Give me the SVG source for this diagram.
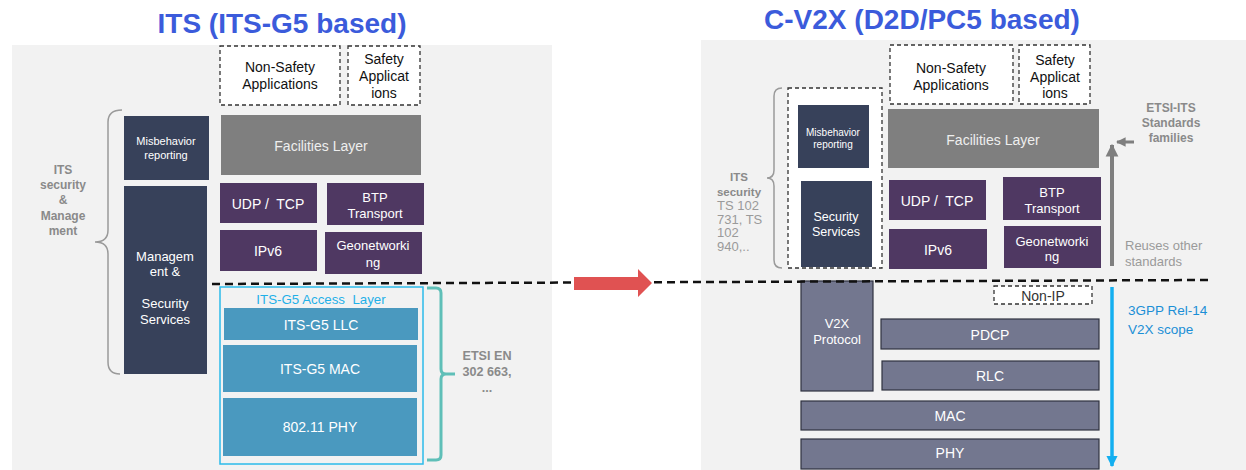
<svg xmlns="http://www.w3.org/2000/svg" width="1246" height="470" viewBox="0 0 1246 470">
  <style>
    text { font-family: "Liberation Sans", Arial, sans-serif; text-anchor: middle; dominant-baseline: central; }
    .title { font-size: 28px; font-weight: bold; fill: #3b5bdb; dominant-baseline: alphabetic; }
    .panel { fill: #f2f2f2; }
    .dash { fill: #ffffff; stroke: #333333; stroke-width: 1.3; stroke-dasharray: 4 3; }
    .app { font-size: 14px; fill: #111111; }
    .navy { fill: #37415a; }
    .purple { fill: #4f3862; }
    .fac { fill: #7f7f7f; }
    .g5 { fill: #4a99bf; }
    .v2x { fill: #73778f; stroke: #2f3240; stroke-width: 1.2; }
    .wt { fill: #ffffff; }
    .lbl { font-weight: bold; fill: #8a8a8a; }
    .note { fill: #9a9a9a; font-size: 13px; text-anchor: start; }
    .blue { fill: #1b8fd6; font-size: 13.5px; text-anchor: start; }
    .brace { fill: none; stroke: #9a9a9a; stroke-width: 1.5; }
  </style>
  <defs>
    <marker id="grayHead" viewBox="0 0 10 10" refX="9" refY="5" markerWidth="3.2" markerHeight="3.4" orient="auto" markerUnits="strokeWidth">
      <path d="M0,0 L10,5 L0,10 z" fill="#7f7f7f"/>
    </marker>
    <marker id="blueHead" viewBox="0 0 10 10" refX="9" refY="5" markerWidth="3.2" markerHeight="3.4" orient="auto" markerUnits="strokeWidth">
      <path d="M0,0 L10,5 L0,10 z" fill="#14aff0"/>
    </marker>
  </defs>

  <!-- panels -->
  <rect class="panel" x="12" y="45" width="540" height="425"/>
  <rect class="panel" x="701" y="40" width="545" height="430"/>

  <!-- headings -->
  <text class="title" x="282" y="33">ITS (ITS-G5 based)</text>
  <text class="title" x="922" y="29">C-V2X (D2D/PC5 based)</text>

  <!-- ===== ITS-G5 stack ===== -->
  <g id="its-nonsafety">
    <rect class="dash" x="220" y="46" width="120" height="59"/>
    <text class="app" x="280" y="67">Non-Safety</text>
    <text class="app" x="280" y="84">Applications</text>
  </g>
  <g id="its-safety">
    <rect class="dash" x="348" y="46" width="72" height="59"/>
    <text class="app" x="384" y="59">Safety</text>
    <text class="app" x="384" y="76">Applicat</text>
    <text class="app" x="384" y="93">ions</text>
  </g>
  <g id="its-misbehavior">
    <rect class="navy" x="124" y="116" width="85" height="64"/>
    <text class="wt" x="166" y="141" font-size="11">Misbehavior</text>
    <text class="wt" x="166" y="155" font-size="11">reporting</text>
  </g>
  <g id="its-facilities">
    <rect class="fac" x="221" y="115" width="200" height="60"/>
    <text x="321" y="146" font-size="14" fill="#eeeeee">Facilities Layer</text>
  </g>
  <g id="its-mgmt">
    <rect class="navy" x="124" y="186" width="83" height="188"/>
    <text class="wt" x="165" y="256" font-size="13">Managem</text>
    <text class="wt" x="165" y="271" font-size="13">ent &amp;</text>
    <text class="wt" x="165" y="303" font-size="13">Security</text>
    <text class="wt" x="165" y="319" font-size="13">Services</text>
  </g>
  <g id="its-udp">
    <rect class="purple" x="220" y="183" width="97" height="40"/>
    <text class="wt" x="268" y="204" font-size="14" xml:space="preserve">UDP /  TCP</text>
  </g>
  <g id="its-btp">
    <rect class="purple" x="327" y="183" width="97" height="42"/>
    <text class="wt" x="375" y="197" font-size="13">BTP</text>
    <text class="wt" x="375" y="213" font-size="13">Transport</text>
  </g>
  <g id="its-ipv6">
    <rect class="purple" x="220" y="230" width="97" height="41"/>
    <text class="wt" x="268" y="251" font-size="14">IPv6</text>
  </g>
  <g id="its-geonet">
    <rect class="purple" x="325" y="232" width="97" height="42"/>
    <text class="wt" x="373" y="245" font-size="13">Geonetworki</text>
    <text class="wt" x="373" y="262" font-size="13">ng</text>
  </g>
  <g id="its-access">
    <rect x="220" y="287" width="203" height="177" fill="none" stroke="#2bbbea" stroke-width="1.5"/>
    <text x="321" y="299" font-size="13.3" fill="#1fb0e8" xml:space="preserve">ITS-G5 Access  Layer</text>
  </g>
  <g id="its-llc">
    <rect class="g5" x="224" y="308" width="194" height="32"/>
    <text class="wt" x="321" y="325" font-size="14">ITS-G5 LLC</text>
  </g>
  <g id="its-mac">
    <rect class="g5" x="223" y="345" width="194" height="47"/>
    <text class="wt" x="320" y="369" font-size="14">ITS-G5 MAC</text>
  </g>
  <g id="its-phy">
    <rect class="g5" x="223" y="398" width="194" height="58"/>
    <text class="wt" x="320" y="427" font-size="14">802.11 PHY</text>
  </g>
  <g id="its-sec-label">
    <text class="lbl" x="63" y="170" font-size="12">ITS</text>
    <text class="lbl" x="63" y="185" font-size="12">security</text>
    <text class="lbl" x="63" y="200" font-size="12">&amp;</text>
    <text class="lbl" x="63" y="216" font-size="12">Manage</text>
    <text class="lbl" x="63" y="231" font-size="12">ment</text>
  </g>
  <g id="its-etsi-label">
    <text class="lbl" x="487" y="356" font-size="12.6">ETSI EN</text>
    <text class="lbl" x="487" y="372" font-size="12.6">302 663,</text>
    <text class="lbl" x="487" y="388" font-size="12.6">...</text>
  </g>

  <!-- ===== C-V2X stack ===== -->
  <g id="cv2x-nonsafety">
    <rect class="dash" x="890" y="45" width="123" height="59"/>
    <text class="app" x="951" y="68">Non-Safety</text>
    <text class="app" x="951" y="85">Applications</text>
  </g>
  <g id="cv2x-safety">
    <rect class="dash" x="1019" y="45" width="71" height="59"/>
    <text class="app" x="1055" y="60">Safety</text>
    <text class="app" x="1055" y="77">Applicat</text>
    <text class="app" x="1055" y="93">ions</text>
  </g>
  <g id="cv2x-security-group">
    <rect class="dash" x="788" y="88" width="94" height="180"/>
  </g>
  <g id="cv2x-misbehavior">
    <rect class="navy" x="798" y="105" width="71" height="63"/>
    <text class="wt" x="833" y="132" font-size="10">Misbehavior</text>
    <text class="wt" x="833" y="144" font-size="10">reporting</text>
  </g>
  <g id="cv2x-secservices">
    <rect class="navy" x="801" y="181" width="71" height="86"/>
    <text class="wt" x="836" y="217" font-size="12.5">Security</text>
    <text class="wt" x="836" y="232" font-size="12.5">Services</text>
  </g>
  <g id="cv2x-facilities">
    <rect class="fac" x="888" y="109" width="211" height="59"/>
    <text x="993" y="140" font-size="14" fill="#eeeeee">Facilities Layer</text>
  </g>
  <g id="cv2x-udp">
    <rect class="purple" x="889" y="180" width="97" height="40"/>
    <text class="wt" x="937" y="201" font-size="14" xml:space="preserve">UDP /  TCP</text>
  </g>
  <g id="cv2x-btp">
    <rect class="purple" x="1003" y="177" width="98" height="43"/>
    <text class="wt" x="1052" y="192" font-size="13">BTP</text>
    <text class="wt" x="1052" y="208" font-size="13">Transport</text>
  </g>
  <g id="cv2x-ipv6">
    <rect class="purple" x="889" y="229" width="98" height="40"/>
    <text class="wt" x="938" y="250" font-size="14">IPv6</text>
  </g>
  <g id="cv2x-geonet">
    <rect class="purple" x="1004" y="226" width="97" height="42"/>
    <text class="wt" x="1052" y="241" font-size="13">Geonetworki</text>
    <text class="wt" x="1052" y="256" font-size="13">ng</text>
  </g>
  <g id="cv2x-v2xprotocol">
    <rect class="v2x" x="801" y="281" width="72" height="110"/>
    <text class="wt" x="837" y="323" font-size="13">V2X</text>
    <text class="wt" x="837" y="339" font-size="13">Protocol</text>
  </g>
  <g id="cv2x-nonip">
    <rect class="dash" x="994" y="286" width="98" height="18"/>
    <text x="1043" y="296" font-size="14" fill="#333333">Non-IP</text>
  </g>
  <g id="cv2x-pdcp">
    <rect class="v2x" x="881" y="319" width="218" height="30"/>
    <text class="wt" x="990" y="335" font-size="14">PDCP</text>
  </g>
  <g id="cv2x-rlc">
    <rect class="v2x" x="882" y="361" width="217" height="29"/>
    <text class="wt" x="990" y="376" font-size="14">RLC</text>
  </g>
  <g id="cv2x-mac">
    <rect class="v2x" x="801" y="401" width="298" height="29"/>
    <text class="wt" x="950" y="416" font-size="14">MAC</text>
  </g>
  <g id="cv2x-phy">
    <rect class="v2x" x="801" y="439" width="298" height="30"/>
    <text class="wt" x="950" y="453" font-size="14">PHY</text>
  </g>
  <g id="cv2x-sec-label">
    <text class="lbl" x="739" y="177" font-size="11.5">ITS</text>
    <text class="lbl" x="739" y="192" font-size="11.5">security</text>
    <text class="note" x="717" y="205">TS 102</text>
    <text class="note" x="717" y="219">731, TS</text>
    <text class="note" x="717" y="232">102</text>
    <text class="note" x="717" y="246">940,..</text>
  </g>
  <g id="cv2x-etsi-label">
    <text class="lbl" x="1171" y="108" font-size="12">ETSI-ITS</text>
    <text class="lbl" x="1171" y="123" font-size="12">Standards</text>
    <text class="lbl" x="1171" y="138" font-size="12">families</text>
  </g>
  <g id="cv2x-reuse-label">
    <text class="note" x="1125" y="245">Reuses other</text>
    <text class="note" x="1125" y="261">standards</text>
  </g>
  <g id="cv2x-scope-label">
    <text class="blue" x="1128" y="310">3GPP Rel-14</text>
    <text class="blue" x="1128" y="329">V2X scope</text>
  </g>

  <!-- connectors: braces, separator, arrows -->
  <g id="connectors">
    <path class="brace" d="M122,110 Q108,110 108,122 V230 Q108,242 95,242 Q108,242 108,254 V362 Q108,374 120,374"/>
    <path class="brace" d="M782,88 Q774,88 774,96 V170 Q774,178 767,178 Q774,178 774,186 V260 Q774,268 782,268"/>
    <path d="M427,288 H436 Q441,288 441,293 V369 Q441,374 446,374 H455 M446,374 Q441,374 441,379 V455 Q441,460 436,460 H427" fill="none" stroke="#5fbfb8" stroke-width="3"/>
    <line x1="212" y1="284" x2="1208" y2="280" stroke="#111111" stroke-width="2.5" stroke-dasharray="8 5"/>
    <path d="M574,277 H638 V269 L652,283 L638,297 V290 H574 z" fill="#e05252"/>
    <line x1="1112" y1="266" x2="1112" y2="145" stroke="#7f7f7f" stroke-width="4" marker-end="url(#grayHead)"/>
    <line x1="1134" y1="142" x2="1117" y2="142" stroke="#7f7f7f" stroke-width="3" marker-end="url(#grayHead)"/>
    <line x1="1112" y1="287" x2="1112" y2="466" stroke="#14aff0" stroke-width="3.5" marker-end="url(#blueHead)"/>
  </g>
</svg>
